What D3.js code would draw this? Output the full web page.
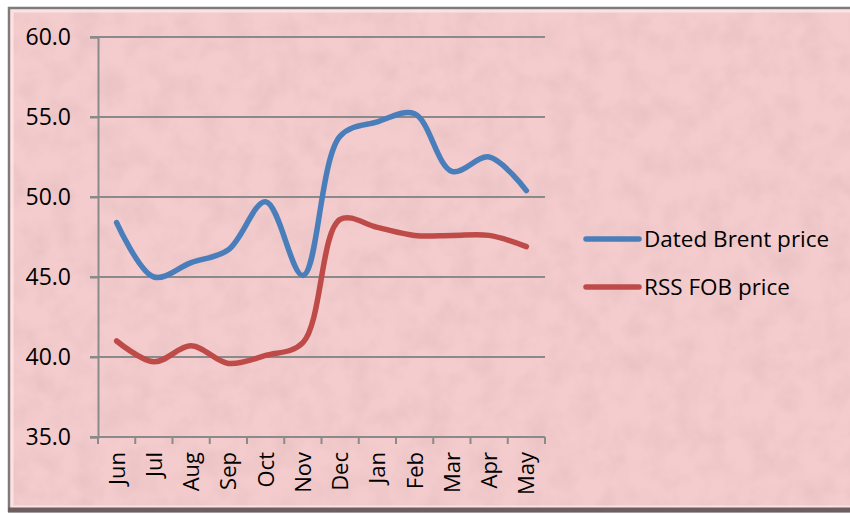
<!DOCTYPE html>
<html>
<head>
<meta charset="utf-8">
<script src="https://cdn.jsdelivr.net/npm/d3@7"></script>
<style>
  body { margin: 0; background: #fff; }
  svg text { font-family: "Open Sans", "Noto Sans", sans-serif; fill: #000; }
</style>
</head>
<body>
<div id="chart"></div>
<script>
// chart data
var months = ['Jun', 'Jul', 'Aug', 'Sep', 'Oct', 'Nov', 'Dec', 'Jan', 'Feb', 'Mar', 'Apr', 'May'];
var brent = [48.4, 45.0, 45.9, 46.7, 49.7, 45.1, 53.8, 54.7, 55.2, 51.6, 52.5, 50.4];
var rss = [41.0, 39.7, 40.7, 39.6, 40.1, 40.9, 48.6, 48.1, 47.6, 47.6, 47.6, 46.9];
var yTicks = [35, 40, 45, 50, 55, 60];
var seriesNames = ['Dated Brent price', 'RSS FOB price'];
var seriesColors = ['#4a7ebb', '#be4b48'];

var width = 850, height = 515;
var svg = d3.select('#chart').append('svg').attr('width', width).attr('height', height);

// textured pink background
var defs = svg.append('defs');
var filt = defs.append('filter').attr('id', 'tex').attr('x', 0).attr('y', 0).attr('width', 1).attr('height', 1);
filt.append('feTurbulence').attr('type', 'fractalNoise').attr('baseFrequency', 0.04).attr('numOctaves', 3).attr('seed', 4).attr('result', 'n');
filt.append('feColorMatrix').attr('in', 'n').attr('type', 'matrix')
  .attr('values', '0 0 0 0 0.6  0 0 0 0 0.38  0 0 0 0 0.4  0.5 0 0 0 -0.18').attr('result', 'm');
filt.append('feComposite').attr('in', 'm').attr('in2', 'SourceGraphic').attr('operator', 'atop');

svg.append('rect').attr('x', 8).attr('y', 7).attr('width', 850).attr('height', 505)
  .attr('fill', '#f4cccd').attr('filter', 'url(#tex)');
// frame
svg.append('rect').attr('x', 9).attr('y', 8).attr('width', 850).attr('height', 503)
  .attr('fill', 'none').attr('stroke', '#807a7a').attr('stroke-width', 2.5);
svg.append('rect').attr('x', 12).attr('y', 11).attr('width', 850).attr('height', 496)
  .attr('fill', 'none').attr('stroke', '#fbe8ea').attr('stroke-width', 3).attr('opacity', 0.8);
svg.append('line').attr('x1', 8).attr('x2', 850).attr('y1', 510).attr('y2', 510)
  .attr('stroke', '#6e5e60').attr('stroke-width', 5);

var mLeft = 98, mRight = 545, mTop = 37, mBottom = 437;
var x = d3.scaleBand().domain(months).range([mLeft, mRight]);
var y = d3.scaleLinear().domain([35, 60]).range([mBottom, mTop]);

// gridlines
svg.append('g').selectAll('line').data(yTicks.slice(1)).enter().append('line')
  .attr('x1', mLeft - 8).attr('x2', mRight).attr('y1', function(d) { return y(d); }).attr('y2', function(d) { return y(d); })
  .attr('stroke', '#8a8a8a').attr('stroke-width', 2);

// y axis
var yAxis = svg.append('g').attr('transform', 'translate(' + mLeft + ',0)')
  .call(d3.axisLeft(y).tickValues(yTicks).tickSize(8).tickPadding(19).tickFormat(d3.format('.1f')));
yAxis.select('.domain').attr('stroke', '#8a8a8a').attr('stroke-width', 2);
yAxis.selectAll('.tick line').attr('stroke', '#8a8a8a').attr('stroke-width', 2);
yAxis.selectAll('text').style('font-size', '23px').style('fill', '#000').style('font-family', '"Open Sans", sans-serif');

// x axis with ticks between categories
var xAxis = svg.append('g').attr('transform', 'translate(0,' + mBottom + ')');
xAxis.append('line').attr('x1', mLeft - 8).attr('x2', mRight).attr('stroke', '#8a8a8a').attr('stroke-width', 2);
var edges = months.map(function(m) { return x(m); }).concat([mRight]);
xAxis.selectAll('.xt').data(edges).enter().append('line').attr('class', 'xt')
  .attr('x1', function(d) { return d; }).attr('x2', function(d) { return d; })
  .attr('y1', 0).attr('y2', 7).attr('stroke', '#8a8a8a').attr('stroke-width', 2);
xAxis.selectAll('text').data(months).enter().append('text')
  .attr('transform', function(d) { return 'translate(' + (x(d) + x.bandwidth() / 2 + 8) + ',15) rotate(-90)'; })
  .attr('text-anchor', 'end').style('font-size', '22px')
  .text(function(d) { return d; });

// series lines
var line = d3.line()
  .x(function(d, i) { return x(months[i]) + x.bandwidth() / 2; })
  .y(function(d) { return y(d); })
  .curve(d3.curveCatmullRom.alpha(0.5));

[brent, rss].forEach(function(s, i) {
  svg.append('path').datum(s).attr('d', line).attr('fill', 'none')
    .attr('stroke', seriesColors[i]).attr('stroke-width', 5.5).attr('stroke-linecap', 'round');
});

// legend
var legend = svg.append('g');
seriesNames.forEach(function(n, i) {
  var ly = 239 + i * 48;
  legend.append('line').attr('x1', 586).attr('x2', 639).attr('y1', ly).attr('y2', ly)
    .attr('stroke', seriesColors[i]).attr('stroke-width', 5.5).attr('stroke-linecap', 'round');
  legend.append('text').attr('x', 644).attr('y', ly + 8).style('font-size', '22.5px').text(n);
});
</script>
</body>
</html>
